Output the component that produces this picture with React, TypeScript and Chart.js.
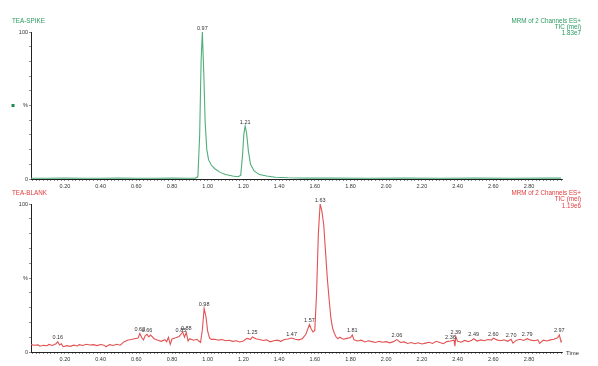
import React, { useEffect, useRef } from "react";
import { Chart, registerables } from "chart.js";
Chart.register(...registerables);

// ---- Data ----
const spikeTimes = [0.01, 0.1, 0.2, 0.3, 0.4, 0.5, 0.6, 0.7, 0.8, 0.9, 0.93, 0.945, 0.955, 0.963, 0.97, 0.978, 0.986, 0.995, 1.005, 1.02, 1.04, 1.07, 1.1, 1.14, 1.17, 1.185, 1.195, 1.203, 1.21, 1.218, 1.228, 1.24, 1.26, 1.29, 1.33, 1.38, 1.45, 1.55, 1.7, 1.9, 2.1, 2.3, 2.5, 2.7, 2.9, 2.98];
const spikeValues = [0.5, 0.5, 0.6, 0.5, 0.5, 0.6, 0.5, 0.5, 0.6, 0.5, 0.6, 1.5, 30, 80, 100, 72, 38, 20, 13, 9.5, 7, 4.5, 3, 2, 1.5, 2.5, 16, 31, 36, 31, 19, 10, 5.5, 3, 2, 1.2, 0.8, 0.6, 0.6, 0.5, 0.6, 0.5, 0.6, 0.5, 0.6, 0.6];
const spikePeaks = [0.97, 1.21];

const blankTimes = [0.01, 0.03, 0.05, 0.06, 0.08, 0.1, 0.11, 0.13, 0.15, 0.16, 0.17, 0.18, 0.19, 0.21, 0.23, 0.25, 0.27, 0.28, 0.3, 0.32, 0.34, 0.36, 0.38, 0.4, 0.42, 0.43, 0.45, 0.47, 0.49, 0.51, 0.53, 0.55, 0.57, 0.59, 0.61, 0.62, 0.63, 0.64, 0.65, 0.66, 0.67, 0.68, 0.7, 0.72, 0.74, 0.76, 0.77, 0.78, 0.79, 0.8, 0.82, 0.84, 0.85, 0.86, 0.87, 0.88, 0.89, 0.9, 0.92, 0.94, 0.95, 0.96, 0.97, 0.98, 0.99, 1.0, 1.01, 1.02, 1.04, 1.06, 1.08, 1.1, 1.12, 1.14, 1.16, 1.18, 1.2, 1.22, 1.24, 1.25, 1.27, 1.29, 1.31, 1.33, 1.35, 1.37, 1.39, 1.41, 1.43, 1.45, 1.47, 1.49, 1.51, 1.53, 1.55, 1.57, 1.58, 1.59, 1.6, 1.61, 1.62, 1.63, 1.64, 1.65, 1.66, 1.67, 1.68, 1.69, 1.7, 1.71, 1.72, 1.73, 1.74, 1.76, 1.78, 1.8, 1.81, 1.82, 1.84, 1.86, 1.88, 1.9, 1.92, 1.94, 1.96, 1.98, 2.0, 2.02, 2.04, 2.06, 2.08, 2.1, 2.12, 2.14, 2.16, 2.18, 2.2, 2.22, 2.24, 2.26, 2.28, 2.3, 2.32, 2.34, 2.36, 2.38, 2.385, 2.39, 2.4, 2.42, 2.44, 2.46, 2.48, 2.49, 2.51, 2.53, 2.55, 2.57, 2.59, 2.6, 2.62, 2.64, 2.66, 2.68, 2.7, 2.71, 2.73, 2.75, 2.77, 2.79, 2.81, 2.83, 2.85, 2.86, 2.88, 2.9, 2.92, 2.94, 2.96, 2.97, 2.98, 2.99];
const blankValues = [5.0, 4.6, 4.8, 3.9, 4.5, 4.2, 5.1, 4.4, 5.6, 7.0, 4.8, 5.5, 3.6, 4.3, 3.8, 4.6, 4.1, 5.0, 4.4, 5.2, 4.7, 5.0, 4.3, 5.1, 4.6, 3.5, 5.0, 4.4, 5.2, 4.6, 6.8, 8.0, 8.4, 9.0, 9.5, 12.5, 9.8, 8.2, 11.0, 12.0, 10.2, 11.4, 9.0, 8.0, 7.2, 8.3, 7.0, 10.0, 5.2, 8.8, 9.6, 10.5, 12.0, 13.5, 10.0, 13.2, 7.5, 9.0, 8.0, 8.6, 7.4, 6.5, 15.0, 29.5, 24.0, 14.0, 9.5, 8.5, 8.6, 8.0, 8.4, 7.6, 7.9, 7.2, 7.6, 6.8, 7.4, 9.2, 8.6, 10.2, 9.0, 8.4, 7.8, 8.2, 6.9, 7.6, 8.0, 7.2, 8.4, 8.8, 9.4, 8.6, 8.2, 9.0, 12.0, 18.5, 15.5, 13.5, 14.5, 40, 80, 100, 95, 86, 68, 50, 36, 23, 16, 12.5, 10.0, 9.0, 10.0, 8.6, 9.2, 9.8, 11.5, 8.2, 7.4, 8.0, 6.8, 7.6, 7.0, 6.4, 7.2, 6.6, 7.0, 6.2, 7.0, 8.4, 6.4, 6.8, 5.8, 6.4, 5.6, 6.2, 5.4, 6.0, 6.6, 5.8, 7.2, 6.4, 5.6, 7.0, 7.4, 8.0, 4.0, 10.5, 7.2, 6.6, 7.8, 7.0, 8.0, 9.0, 7.4, 8.2, 7.6, 8.4, 8.0, 9.4, 8.2, 7.6, 8.2, 7.2, 8.6, 6.0, 8.0, 8.6, 7.8, 9.0, 8.0, 7.6, 8.2, 5.8, 8.0, 7.4, 8.2, 8.6, 9.6, 11.5, 6.8, 8.0];
const blankPeaks = [0.16, 0.62, 0.66, 0.85, 0.88, 0.98, 1.25, 1.47, 1.57, 1.63, 1.81, 2.06, 2.36, 2.39, 2.49, 2.6, 2.7, 2.79, 2.97];

const spikeHeader = ["MRM of 2 Channels ES+", "TIC (mei)", "1.83e7"];
const blankHeader = ["MRM of 2 Channels ES+", "TIC (mei)", "1.19e6"];

const FONT = "'Liberation Sans', Arial, sans-serif";
const FS = 5.5;
const HFS = 6.3;

type PanelProps = {
  width: number;
  height: number;
  top: number;
  padTop: number;
  xAxisH: number;
  times: number[];
  values: number[];
  peaks: number[];
  color: string;
  textColor: string;
  name: string;
  header: string[];
  nameY: number;
  headerY: number[];
  marker: boolean;
  timeLabel: boolean;
};

function Panel(p: PanelProps) {
  const ref = useRef<HTMLCanvasElement>(null);
  useEffect(() => {
    const canvas = ref.current!;
    const points = p.times.map((t, i) => ({ x: t, y: p.values[i] }));
    const overlay = {
      id: "overlay",
      afterDraw(chart: any) {
        const ctx = chart.ctx;
        const xs = chart.scales.x;
        const ys = chart.scales.y;
        ctx.save();
        ctx.font = `${FS}px ${FONT}`;
        ctx.fillStyle = "#333";
        ctx.textAlign = "center";
        ctx.textBaseline = "alphabetic";
        p.peaks.forEach((pk) => {
          let best = 0;
          for (let i = 0; i < p.times.length; i++) {
            if (Math.abs(p.times[i] - pk) < Math.abs(p.times[best] - pk)) best = i;
          }
          const px = xs.getPixelForValue(pk);
          const py = ys.getPixelForValue(p.values[best]);
          ctx.fillText(pk.toFixed(2), px, py - 2.5);
        });
        ctx.font = `${HFS}px ${FONT}`;
        ctx.fillStyle = p.textColor;
        ctx.textBaseline = "middle";
        ctx.textAlign = "left";
        ctx.fillText(p.name, 12, p.nameY);
        ctx.textAlign = "right";
        p.header.forEach((h, i) => ctx.fillText(h, 581, p.headerY[i]));
        if (p.marker) {
          ctx.fillStyle = "#1e8a55";
          ctx.fillRect(11.5, ys.getPixelForValue(50) - 1.5, 3, 3);
        }
        if (p.timeLabel) {
          ctx.font = `${FS + 0.5}px ${FONT}`;
          ctx.fillStyle = "#333";
          ctx.textAlign = "left";
          ctx.fillText("Time", 566, xs.bottom - p.xAxisH + 1);
        }
        ctx.restore();
      },
    };
    const chart = new Chart(canvas, {
      type: "line",
      data: {
        datasets: [
          {
            data: points,
            borderColor: p.color,
            borderWidth: 1.1,
            pointRadius: 0,
            tension: 0,
            fill: false,
          },
        ],
      },
      options: {
        animation: false,
        responsive: false,
        events: [],
        layout: { padding: { top: p.padTop, right: 36, left: 0, bottom: 0 } },
        plugins: { legend: { display: false }, tooltip: { enabled: false } },
        scales: {
          x: {
            type: "linear",
            min: 0.01,
            max: 2.985,
            afterBuildTicks: (axis: any) => {
              const t: any[] = [];
              for (let i = 1; i <= 149; i++) t.push({ value: i * 0.02 });
              axis.ticks = t;
            },
            afterFit: (axis: any) => {
              axis.height = p.xAxisH;
            },
            ticks: {
              autoSkip: false,
              maxRotation: 0,
              padding: 2,
              color: "#333",
              font: { size: FS, family: FONT },
              callback: (v: any) => {
                const n = Number(v);
                const k = Math.round(n * 5);
                if (Math.abs(n * 5 - k) < 1e-6 && k >= 1 && k <= 14) return n.toFixed(2);
                return "";
              },
            },
            grid: { drawOnChartArea: false, drawTicks: true, tickLength: 2, color: "#444", lineWidth: 0.6 },
            border: { display: true, color: "#222", width: 1 },
          },
          y: {
            min: 0,
            max: 100,
            afterBuildTicks: (axis: any) => {
              const t: any[] = [];
              for (let i = 0; i <= 10; i++) t.push({ value: i * 10 });
              axis.ticks = t;
            },
            afterFit: (axis: any) => {
              axis.width = 31;
            },
            ticks: {
              autoSkip: false,
              padding: 1,
              color: "#333",
              font: { size: FS, family: FONT },
              callback: (v: any) => {
                const n = Number(v);
                if (n === 0) return "0";
                if (n === 50) return "%";
                if (n === 100) return "100";
                return "";
              },
            },
            grid: { drawOnChartArea: false, drawTicks: true, tickLength: 2, color: "#444", lineWidth: 0.6 },
            border: { display: true, color: "#222", width: 1 },
          },
        },
      },
      plugins: [overlay],
    } as any);
    return () => chart.destroy();
  }, []);
  return (
    <canvas
      ref={ref}
      width={p.width}
      height={p.height}
      style={{ position: "absolute", left: 0, top: p.top, width: p.width, height: p.height }}
    />
  );
}

export default function App() {
  return (
    <div style={{ position: "fixed", left: 0, top: 0, width: 598, height: 366, background: "#fff" }}>
      <Panel
        width={598}
        height={189}
        top={0}
        padTop={32}
        xAxisH={10}
        times={spikeTimes}
        values={spikeValues}
        peaks={spikePeaks}
        color="#4fae7c"
        textColor="#2a9a5e"
        name="TEA-SPIKE"
        header={spikeHeader}
        nameY={21}
        headerY={[21, 27.7, 33.5]}
        marker={true}
        timeLabel={false}
      />
      <Panel
        width={598}
        height={177}
        top={189}
        padTop={15}
        xAxisH={14}
        times={blankTimes}
        values={blankValues}
        peaks={blankPeaks}
        color="#e25252"
        textColor="#e03c3c"
        name="TEA-BLANK"
        header={blankHeader}
        nameY={3.8}
        headerY={[3.8, 10.3, 17]}
        marker={false}
        timeLabel={true}
      />
    </div>
  );
}
